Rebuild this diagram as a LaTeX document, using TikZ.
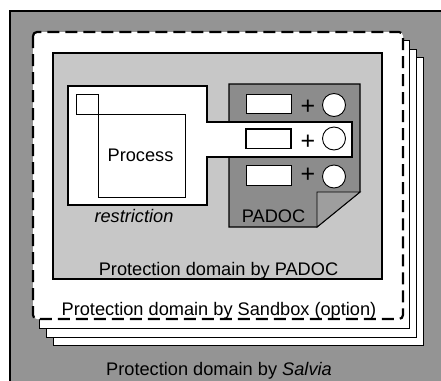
\documentclass[tikz,border=0pt]{standalone}
\usepackage{fontspec}
\setmainfont{Liberation Sans}
\usetikzlibrary{positioning}

\tikzset{
    domainbox/.style={draw=black, line width=1.3pt},
    sheet/.style={draw=black, fill=white, line width=0.8pt},
    sandbox/.style={draw=black, fill=white, line width=2.2pt,
                    dash pattern=on 12pt off 6pt, rounded corners=4pt},
    slot/.style={rectangle, draw, fill=white, line width=0.9pt,
                 minimum width=45pt, minimum height=19.5pt, inner sep=0pt},
    token/.style={circle, draw, fill=white, line width=0.9pt,
                  minimum size=23pt, inner sep=0pt},
    caption/.style={anchor=base, inner sep=0pt, font=\fontsize{18.2}{20}\selectfont},
    plussign/.style={anchor=base, inner sep=0pt, font=\fontsize{25}{27}\selectfont}
}

\begin{document}
\begin{tikzpicture}[x=1pt, y=-1pt]
\useasboundingbox (0,0) rectangle (441,380);
\clip (0,0) rectangle (441,380);

% outer domain of Salvia
\draw [domainbox, line width=1.8pt, fill=black!42] (10,11) rectangle (450,390);

% stacked sandbox sheets, back to front
\draw [sheet] (53,57) rectangle (423,345);
\draw [sheet] (46,49) rectangle (416,337);
\draw [sheet] (39,40) rectangle (409,328);
\draw [sandbox] (33,32) rectangle (403,319);

% PADOC protection domain
\draw [domainbox, fill=black!22] (53,53) rectangle (382,279);

% PADOC component with folded corner
\draw [line width=1.1pt, fill=black!45]
    (229,84) -- (360,84) -- (360,192) -- (317,227) -- (229,227) -- cycle;
\draw [line width=0.9pt, fill=black!38] (317,227) -- (317,192) -- (360,192) -- cycle;

% restriction area around the process, reaching into PADOC
\draw [line width=1.2pt, fill=white]
    (68,86) -- (207,86) -- (207,122) -- (352,122) -- (352,157)
    -- (207,157) -- (207,205) -- (68,205) -- cycle;
\draw [line width=0.9pt] (76,94) rectangle (98,114);
\draw [line width=0.9pt] (98,114) rectangle (185,197);

\begin{scope}[every node/.style={caption}]
    \node (process) at (140.5,161) {Process};
    \node (restrict) at (134,222) {\itshape restriction};
    \node (padoc) at (273.5,222) {PADOC};
    \node (padocdom) at (218.5,275) {Protection domain by PADOC};
    \node (sandboxdom) at (219,315) {Protection domain by Sandbox (option)};
    \node (salviadom) at (219,375.5) {Protection domain by \textit{Salvia}};
\end{scope}

% slots of the PADOC, each a box plus a token
\begin{scope}[every node/.style={}]
    \node (slot1) at (268.5,104) [slot] {};
    \node (slot2) at (268.5,138.5) [slot, line width=1.5pt] {};
    \node (slot3) at (268.5,175.5) [slot] {};

    \node (plus1) at (308,114.3) [plussign] {+};
    \node (plus2) at (308,149.3) [plussign] {+};
    \node (plus3) at (308,182.8) [plussign] {+};

    \node (token1) at (334,105) [token] {};
    \node (token2) at (334,138.5) [token] {};
    \node (token3) at (334,176.5) [token] {};
\end{scope}
\end{tikzpicture}
\end{document}
